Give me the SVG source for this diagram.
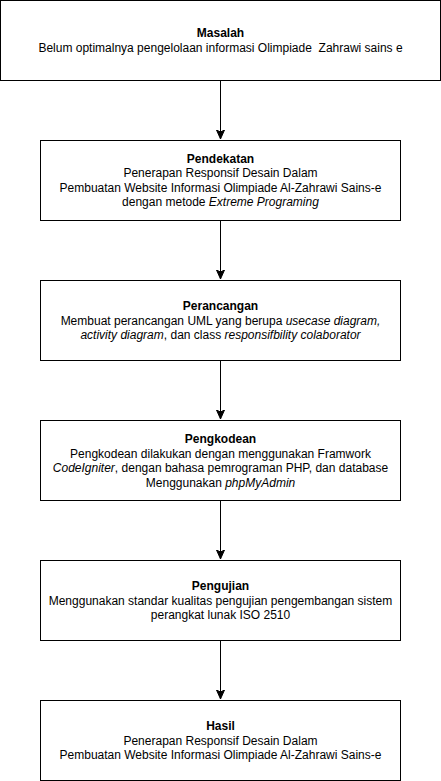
<svg xmlns="http://www.w3.org/2000/svg" width="441" height="781" viewBox="0 0 441 781">
<style>
.box{fill:#fff;stroke:#000;stroke-width:1}
text{font-family:"Liberation Sans",Arial,Helvetica,sans-serif;font-size:12px;fill:#000;text-anchor:middle}
.t{font-weight:bold}
.i{font-style:italic}
.edge{stroke:#000;stroke-width:1;fill:none}
</style>
<defs>
<marker id="arr" markerUnits="userSpaceOnUse" markerWidth="10" markerHeight="12" refX="9" refY="5" orient="auto" viewBox="0 0 10 10">
<path d="M0,1 L9,5 L0,9 L2,5 Z" fill="#000" stroke="#000" stroke-width="1"/>
</marker>
</defs>
<rect width="441" height="781" fill="#fff"/>
<g id="connectors">
<path class="edge" d="M220.5,80.5 L220.5,139" marker-end="url(#arr)"/>
<path class="edge" d="M220.5,220.5 L220.5,279" marker-end="url(#arr)"/>
<path class="edge" d="M220.5,360.5 L220.5,419" marker-end="url(#arr)"/>
<path class="edge" d="M220.5,500.5 L220.5,559" marker-end="url(#arr)"/>
<path class="edge" d="M220.5,640.5 L220.5,699" marker-end="url(#arr)"/>
</g>
<g id="masalah">
<rect class="box" x="0.5" y="0.5" width="440" height="80"/>
<text x="220.5" y="37" class="t">Masalah</text>
<text x="220.5" y="51.5" xml:space="preserve">Belum optimalnya pengelolaan informasi Olimpiade  Zahrawi sains e</text>
</g>
<g id="pendekatan">
<rect class="box" x="40.5" y="140.5" width="360" height="80"/>
<text x="220.5" y="162.5" class="t">Pendekatan</text>
<text x="220.5" y="177">Penerapan Responsif Desain Dalam</text>
<text x="220.5" y="191.5">Pembuatan Website Informasi Olimpiade Al-Zahrawi Sains-e</text>
<text x="220.5" y="206">dengan metode <tspan class="i">Extreme Programing</tspan></text>
</g>
<g id="perancangan">
<rect class="box" x="40.5" y="280.5" width="360" height="80"/>
<text x="220.5" y="310" class="t">Perancangan</text>
<text x="220.5" y="324.5">Membuat perancangan UML yang berupa <tspan class="i">usecase diagram,</tspan></text>
<text x="220.5" y="339"><tspan class="i">activity diagram</tspan>, dan class <tspan class="i">responsifbility colaborator</tspan></text>
</g>
<g id="pengkodean">
<rect class="box" x="40.5" y="420.5" width="360" height="80"/>
<text x="220.5" y="443" class="t">Pengkodean</text>
<text x="220.5" y="457.5">Pengkodean dilakukan dengan menggunakan Framwork</text>
<text x="220.5" y="472"><tspan class="i">CodeIgniter</tspan>, dengan bahasa pemrograman PHP, dan database</text>
<text x="220.5" y="486.5">Menggunakan <tspan class="i">phpMyAdmin</tspan></text>
</g>
<g id="pengujian">
<rect class="box" x="40.5" y="560.5" width="360" height="80"/>
<text x="220.5" y="590" class="t">Pengujian</text>
<text x="220.5" y="604.5">Menggunakan standar kualitas pengujian pengembangan sistem</text>
<text x="220.5" y="619">perangkat lunak ISO 2510</text>
</g>
<g id="hasil">
<rect class="box" x="40.5" y="700.5" width="360" height="80"/>
<text x="220.5" y="730" class="t">Hasil</text>
<text x="220.5" y="744.5">Penerapan Responsif Desain Dalam</text>
<text x="220.5" y="759">Pembuatan Website Informasi Olimpiade Al-Zahrawi Sains-e</text>
</g>
</svg>
